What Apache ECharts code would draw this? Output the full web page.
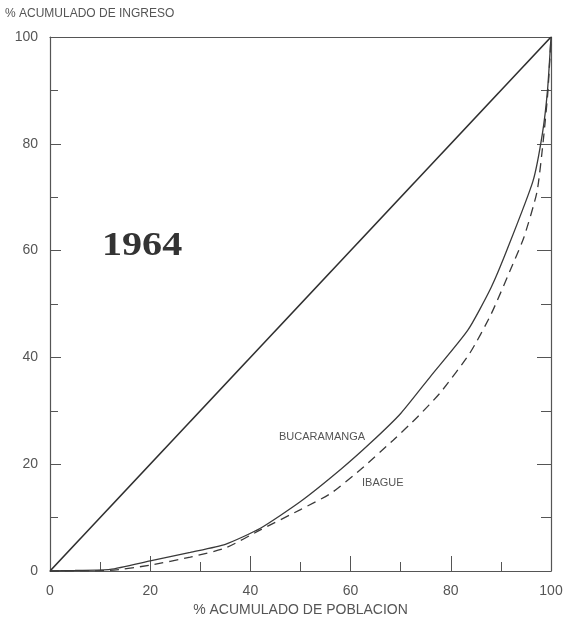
<!DOCTYPE html>
<html><head><meta charset="utf-8">
<script src="https://cdn.jsdelivr.net/npm/echarts@6/dist/echarts.min.js"></script>
<style>html,body{margin:0;padding:0;background:#fff}#c{width:575px;height:629px}</style>
</head><body><div id="c"></div>
<script>
const poblacion = [0, 5, 12, 20, 28, 35, 42, 50, 58, 64, 70, 76, 83.4, 88, 91.2, 96.4, 98.3, 99.3, 100];
const bucaramanga = [0, 0.1, 0.3, 1.9, 3.5, 5, 8, 13, 19, 24, 29.5, 36.5, 45.1, 53, 60.1, 73, 82, 90, 100];
const poblacionIbague = [0, 12, 20, 28, 35, 42, 50, 56, 62, 68.5, 73.3, 78, 83.8, 88, 92.4, 94.6, 97.2, 98.5, 99.4, 100];
const ibague = [0, 0.1, 1.1, 2.6, 4.3, 7.7, 11.5, 14.5, 19, 24.5, 28.8, 33.5, 40.8, 48, 57.5, 62.5, 71, 81, 90, 100];
const igualdad = [[0, 0], [100, 100]];
const tickLabels = ['0', '20', '40', '60', '80', '100'];
const yearLabel = '1964';

const font = '"Liberation Sans", "DejaVu Sans", sans-serif';
const ink = '#3a3a3a';
const grey = '#555';

const chart = echarts.init(document.getElementById('c'), null, {renderer: 'canvas'});
const axisCommon = {
  type: 'value', min: 0, max: 100, interval: 20,
  splitLine: {show: false},
  axisLine: {show: true, onZero: false, lineStyle: {color: grey, width: 1.2}},
};
chart.setOption({
  animation: false,
  backgroundColor: '#fff',
  grid: {left: 50, right: 24, top: 37, bottom: 58, containLabel: false},
  xAxis: [
    Object.assign({}, axisCommon, {
      position: 'bottom',
      name: '% ACUMULADO DE POBLACION', nameLocation: 'middle', nameGap: 30,
      nameTextStyle: {fontFamily: font, fontSize: 14, color: grey},
      axisTick: {show: true, inside: true, length: 15, lineStyle: {color: grey}},
      minorTick: {show: true, splitNumber: 2, length: 9, lineStyle: {color: grey}},
      axisLabel: {margin: 13, fontFamily: font, fontSize: 14, color: grey,
        formatter: v => tickLabels[Math.round(v / 20)]}
    }),
    Object.assign({}, axisCommon, {
      position: 'top', axisTick: {show: false}, axisLabel: {show: false}
    })
  ],
  yAxis: [
    Object.assign({}, axisCommon, {
      position: 'left',
      axisTick: {show: true, inside: true, length: 11, lineStyle: {color: grey}},
      minorTick: {show: true, splitNumber: 2, length: 8, lineStyle: {color: grey}},
      axisLabel: {margin: 12, fontFamily: font, fontSize: 14, color: grey,
        formatter: v => tickLabels[Math.round(v / 20)]}
    }),
    Object.assign({}, axisCommon, {
      position: 'right',
      axisTick: {show: true, inside: true, length: 14, lineStyle: {color: grey}},
      minorTick: {show: true, splitNumber: 2, length: 10, lineStyle: {color: grey}},
      axisLabel: {show: false}
    })
  ],
  graphic: [
    {type: 'text', left: 5, top: 8, style: {text: '% ACUMULADO DE INGRESO', fontFamily: font, fontSize: 12, fill: grey}},
    {type: 'text', left: 102, top: 229, scaleX: 1.18, style: {text: yearLabel, fontFamily: '"Liberation Serif", "DejaVu Serif", serif', fontWeight: 'bold', fontSize: 34, fill: '#333'}},
    {type: 'text', left: 279, top: 431, style: {text: 'BUCARAMANGA', fontFamily: font, fontSize: 11, fill: grey}},
    {type: 'text', left: 362, top: 477, style: {text: 'IBAGUE', fontFamily: font, fontSize: 11, fill: grey}}
  ],
  series: [
    {name: 'Igualdad', type: 'line', data: igualdad, showSymbol: false, silent: true,
      lineStyle: {color: '#2e2e2e', width: 1.6}},
    {name: 'BUCARAMANGA', type: 'line', data: poblacion.map((x, i) => [x, bucaramanga[i]]),
      showSymbol: false, smooth: 0.2, lineStyle: {color: ink, width: 1.3}},
    {name: 'IBAGUE', type: 'line', data: poblacionIbague.map((x, i) => [x, ibague[i]]),
      showSymbol: false, smooth: 0.2, lineStyle: {color: ink, width: 1.3, type: [9, 6]}}
  ]
});
</script></body></html>
